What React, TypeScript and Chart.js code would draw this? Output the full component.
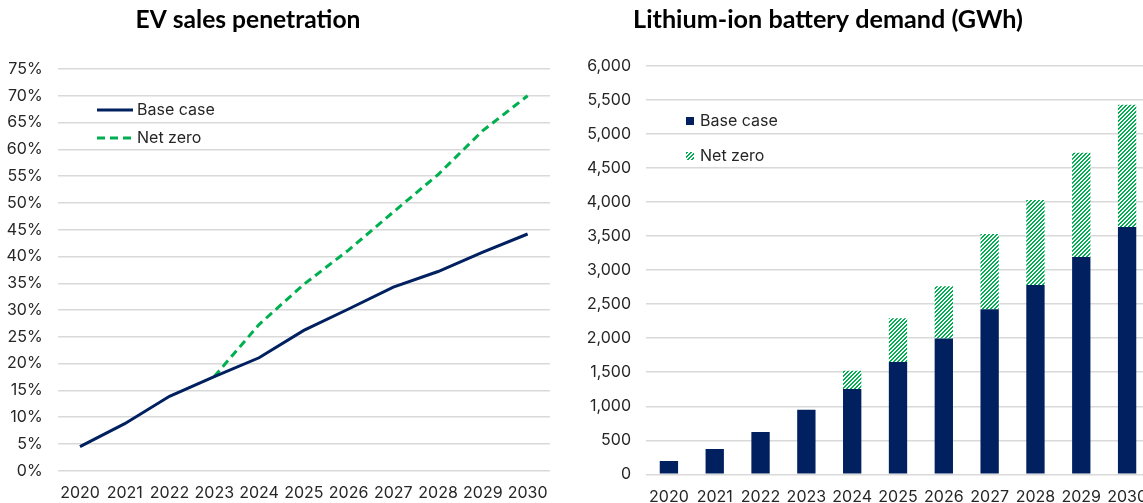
import React, { useEffect, useRef } from 'react';
import { Chart, registerables } from 'chart.js';

Chart.register(...registerables);

// ---------- data ----------
const years = ['2020', '2021', '2022', '2023', '2024', '2025', '2026', '2027', '2028', '2029', '2030'];

// EV sales penetration (%)
const evBaseCase = [4.5, 8.8, 13.9, 17.6, 21.1, 26.2, 30.2, 34.3, 37.2, 40.8, 44.2];
const evNetZero = [null, null, null, 17.6, 27.3, 34.8, 41.2, 48.3, 55.3, 63.5, 70.0];
const evAxisMax = 75;
const evAxisStep = 5;

// Lithium-ion battery demand (GWh)
const batteryBaseCase = [195, 370, 620, 950, 1255, 1650, 1995, 2425, 2780, 3195, 3635];
const batteryNetZeroTotal = [null, null, null, null, 1520, 2295, 2765, 3530, 4030, 4725, 5430];
const batteryAxisMax = 6000;
const batteryAxisStep = 500;

const seriesNames = ['Base case', 'Net zero'];
const titles = ['EV sales penetration', 'Lithium-ion battery demand (GWh)'];

// ---------- style ----------
const NAVY = '#002060';
const GREEN = '#00B050';
const GRID = '#d9d9d9';
const TEXT = '#262626';
const TICK_FONT = "Inter, 'Noto Sans', sans-serif";
const TITLE_FONT = "Lato, 'Open Sans', sans-serif";

const titlePlugin = {
  id: 'customTitle',
  afterDraw(chart: any, _args: any, opts: any) {
    const ctx = chart.ctx;
    ctx.save();
    ctx.font = `bold ${opts.size}px ${TITLE_FONT}`;
    ctx.fillStyle = '#000';
    ctx.textAlign = 'center';
    ctx.textBaseline = 'middle';
    ctx.fillText(opts.text, opts.x, opts.y);
    ctx.restore();
  },
};

const legendPlugin = {
  id: 'insideLegend',
  afterDraw(chart: any, _args: any, opts: any) {
    const ctx = chart.ctx;
    chart.data.datasets.forEach((ds: any, i: number) => {
      const y = opts.y + i * opts.gap;
      ctx.save();
      if (opts.kind === 'line') {
        ctx.strokeStyle = ds.borderColor;
        ctx.lineWidth = ds.borderWidth;
        ctx.setLineDash(ds.borderDash || []);
        ctx.beginPath();
        ctx.moveTo(opts.x, y);
        ctx.lineTo(opts.x + opts.sample, y);
        ctx.stroke();
      } else {
        ctx.fillStyle = ds.backgroundColor;
        ctx.fillRect(opts.x, y - opts.sample / 2, opts.sample, opts.sample);
      }
      ctx.setLineDash([]);
      ctx.font = `${opts.fontSize}px ${TICK_FONT}`;
      ctx.fillStyle = TEXT;
      ctx.textAlign = 'left';
      ctx.textBaseline = 'middle';
      ctx.fillText(ds.label, opts.x + opts.sample + opts.textGap, y);
      ctx.restore();
    });
  },
};

function makeHatch(): CanvasPattern | string {
  const c = document.createElement('canvas');
  c.width = 4;
  c.height = 4;
  const g = c.getContext('2d');
  if (!g) return GREEN;
  g.fillStyle = '#ffffff';
  g.fillRect(0, 0, 4, 4);
  g.fillStyle = GREEN;
  for (let x = 0; x < 4; x++) {
    for (let y = 0; y < 4; y++) {
      const m = (x + y) % 4;
      if (m === 0 || m === 1) g.fillRect(x, y, 1, 1);
    }
  }
  const p = g.createPattern(c, 'repeat');
  return p || GREEN;
}

function EvChart() {
  const ref = useRef<HTMLCanvasElement>(null);
  useEffect(() => {
    if (!ref.current) return;
    const chart = new Chart(ref.current, {
      type: 'line',
      data: {
        labels: years,
        datasets: [
          {
            label: seriesNames[0],
            data: evBaseCase,
            borderColor: NAVY,
            backgroundColor: NAVY,
            borderWidth: 3,
            pointRadius: 0,
            tension: 0,
          },
          {
            label: seriesNames[1],
            data: evNetZero as any,
            borderColor: GREEN,
            backgroundColor: GREEN,
            borderWidth: 3,
            borderDash: [8, 5],
            pointRadius: 0,
            tension: 0,
          },
        ],
      },
      options: {
        animation: false,
        responsive: false,
        layout: { padding: { top: 69, right: 20, bottom: 0, left: 0 } },
        plugins: {
          legend: { display: false },
          tooltip: { enabled: false },
          customTitle: { text: titles[0], x: 248, y: 20, size: 24.6 },
          insideLegend: { kind: 'line', x: 97, y: 110, gap: 28, sample: 36, textGap: 4, fontSize: 16 },
        } as any,
        scales: {
          x: {
            offset: true,
            grid: { display: false },
            border: { display: false },
            ticks: { color: TEXT, font: { family: TICK_FONT, size: 16 }, padding: 5, autoSkip: false, maxRotation: 0 },
            afterFit: (s: any) => { s.height = 32.2; },
          },
          y: {
            min: 0,
            max: evAxisMax,
            grid: { color: GRID, lineWidth: 1.5, drawTicks: false },
            border: { display: false },
            ticks: {
              stepSize: evAxisStep,
              color: TEXT,
              font: { family: TICK_FONT, size: 16 },
              padding: 15,
              callback: (v: any) => `${v}%`,
            },
            afterFit: (s: any) => { s.width = 57.6; },
          },
        },
      },
      plugins: [titlePlugin, legendPlugin],
    });
    return () => chart.destroy();
  }, []);
  return <canvas ref={ref} width={570} height={503} style={{ position: 'absolute', left: 0, top: 0, width: 570, height: 503 }} />;
}

function BatteryChart() {
  const ref = useRef<HTMLCanvasElement>(null);
  useEffect(() => {
    if (!ref.current) return;
    const hatch = makeHatch();
    const netZeroExtra = batteryNetZeroTotal.map((t, i) => (t == null ? null : t - batteryBaseCase[i]));
    const chart = new Chart(ref.current, {
      type: 'bar',
      data: {
        labels: years,
        datasets: [
          {
            label: seriesNames[0],
            data: batteryBaseCase,
            backgroundColor: NAVY,
            borderWidth: 0,
            categoryPercentage: 1,
            barPercentage: 0.4,
          },
          {
            label: seriesNames[1],
            data: netZeroExtra as any,
            backgroundColor: hatch as any,
            borderWidth: 0,
            categoryPercentage: 1,
            barPercentage: 0.4,
          },
        ],
      },
      options: {
        animation: false,
        responsive: false,
        layout: { padding: { top: 66, right: 30, bottom: 0, left: 0 } },
        plugins: {
          legend: { display: false },
          tooltip: { enabled: false },
          customTitle: { text: titles[1], x: 258, y: 20, size: 25.2 },
          insideLegend: { kind: 'box', x: 116, y: 121, gap: 35, sample: 8, textGap: 6, fontSize: 16 },
        } as any,
        scales: {
          x: {
            stacked: true,
            grid: { display: false },
            border: { display: false },
            ticks: { color: TEXT, font: { family: TICK_FONT, size: 16 }, padding: 5, autoSkip: false, maxRotation: 0 },
            afterFit: (s: any) => { s.height = 28.7; },
          },
          y: {
            stacked: true,
            min: 0,
            max: batteryAxisMax,
            grid: { color: GRID, lineWidth: 1.5, drawTicks: false },
            border: { display: false },
            ticks: {
              stepSize: batteryAxisStep,
              color: TEXT,
              font: { family: TICK_FONT, size: 16 },
              padding: 15,
              callback: (v: any) => Number(v).toLocaleString('en-US'),
            },
            afterFit: (s: any) => { s.width = 76; },
          },
        },
      },
      plugins: [titlePlugin, legendPlugin],
    });
    return () => chart.destroy();
  }, []);
  return <canvas ref={ref} width={610} height={503} style={{ position: 'absolute', left: 570, top: 0, width: 610, height: 503 }} />;
}

export default function App() {
  return (
    <div style={{ position: 'fixed', left: 0, top: 0, width: 1143, height: 503, overflow: 'hidden', background: '#ffffff' }}>
      <EvChart />
      <BatteryChart />
    </div>
  );
}
